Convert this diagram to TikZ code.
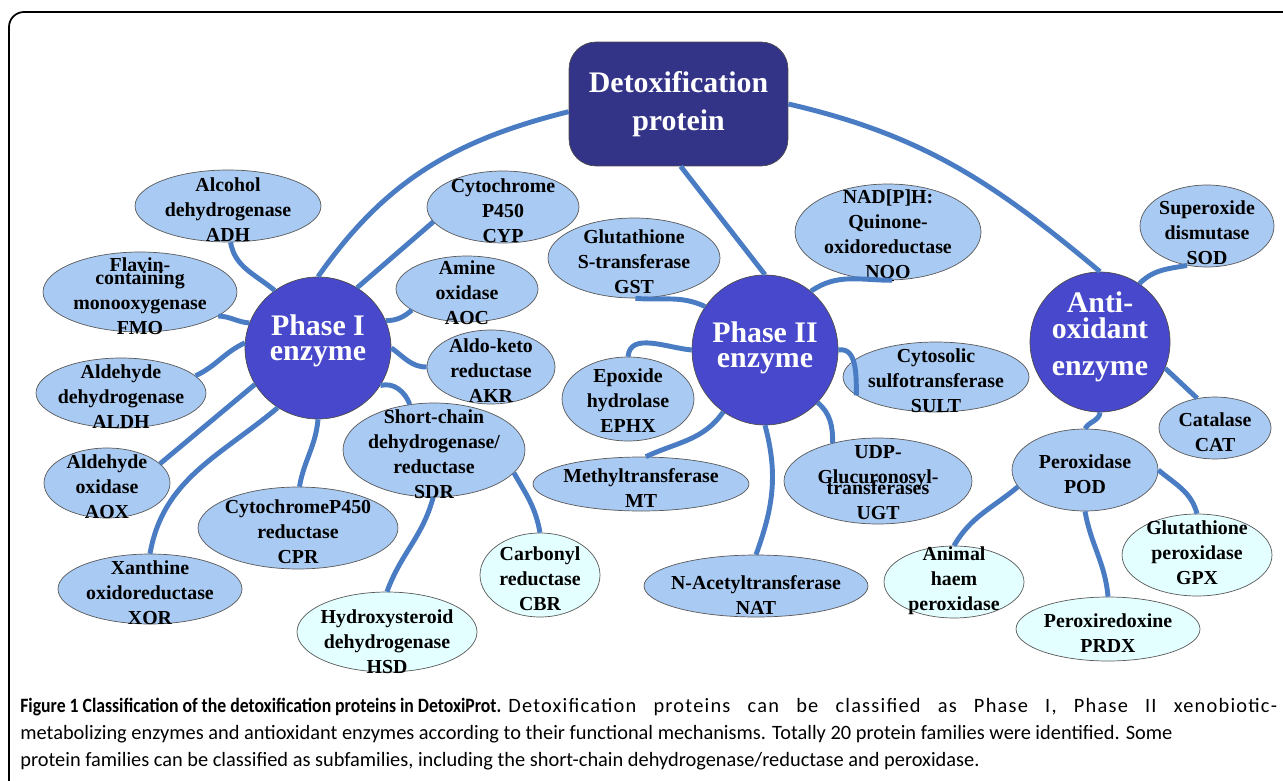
\documentclass[tikz,border=0pt]{standalone}
\usepackage{graphicx}
\usepackage{fontspec}
\setmainfont{Liberation Serif}
\newfontfamily\capfont{Carlito}
\usetikzlibrary{shapes.geometric}
\definecolor{boxnavy}{RGB}{51,51,136}
\definecolor{hubblue}{RGB}{72,72,204}
\definecolor{leafblue}{RGB}{169,202,242}
\definecolor{leafcyan}{RGB}{227,255,255}
\definecolor{linkblue}{RGB}{74,124,196}

\begin{document}
\begin{tikzpicture}[x=0.02cm,y=-0.02cm,
	hub/.style={ellipse,draw=black!70,line width=0.4pt,fill=hubblue,inner sep=0pt},
	hubtext/.style={text=white,font=\bfseries\fontsize{17}{14.5}\selectfont,align=center,inner sep=0pt},
	leaf/.style={ellipse,draw=black!65,line width=0.4pt,fill=leafblue,inner sep=0pt},
	subleaf/.style={leaf,fill=leafcyan},
	leaftext/.style={font=\bfseries\fontsize{11.3}{14.2}\selectfont,align=center,inner sep=0pt,yshift=-0.08cm},
	link/.style={draw=linkblue,line width=2.8pt}]
		\useasboundingbox (0,0) rectangle (1283,780);
		\draw[line width=1pt,rounded corners=0.3cm] (9,800) -- (9,12) -- (1300,12);

		% root and the three groups
		\node[draw=black!70,line width=0.4pt,fill=boxnavy,rounded corners=0.54cm,minimum width=4.38cm,minimum height=2.48cm,text=white,align=center,font=\bfseries\fontsize{17}{22}\selectfont] (detox) at (678.5,104) {Detoxification\\protein};
		\node[hub,minimum width=2.92cm,minimum height=2.84cm,label={[hubtext,yshift=0.14cm]center:Phase I\\enzyme}] (phaseI) at (318,348) {};
		\node[hub,minimum width=2.92cm,minimum height=3cm,label={[hubtext,yshift=0.04cm]center:Phase II\\enzyme}] (phaseII) at (765,350) {};
		\node[hub,minimum width=2.8cm,minimum height=2.8cm,label={[hubtext,yshift=0.1cm]center:Anti-\\oxidant\\[6.5pt]enzyme}] (anti) at (1100,342) {};

		% phase I families
		\node[leaf,minimum width=3.72cm,minimum height=1.44cm,label={[leaftext]center:Alcohol\\dehydrogenase\\ADH}] (adh) at (228,206) {};
		\node[leaf,minimum width=3.88cm,minimum height=1.6cm,label={[leaftext,yshift=0cm]center:Flavin-\\[-7pt]containing\\monooxygenase\\FMO}] (fmo) at (140,292) {};
		\node[leaf,minimum width=3.4cm,minimum height=1.4cm,label={[leaftext]center:Aldehyde\\dehydrogenase\\ALDH}] (aldh) at (121,393) {};
		\node[leaf,minimum width=2.52cm,minimum height=1.4cm,label={[leaftext]center:Aldehyde\\oxidase\\AOX}] (aox) at (107,483) {};
		\node[leaf,minimum width=3.68cm,minimum height=1.4cm,label={[leaftext]center:Xanthine\\oxidoreductase\\XOR}] (xor) at (150,589) {};
		\node[leaf,minimum width=4cm,minimum height=1.64cm,label={[leaftext]center:CytochromeP450\\reductase\\CPR}] (cpr) at (298,528) {};
		\node[leaf,minimum width=3.64cm,minimum height=1.88cm,label={[leaftext]center:Short-chain\\dehydrogenase/\\reductase\\SDR}] (sdr) at (434,450) {};
		\node[subleaf,minimum width=3.6cm,minimum height=1.6cm,label={[leaftext,yshift=-0.12cm]center:Hydroxysteroid\\dehydrogenase\\HSD}] (hsd) at (387,632) {};
		\node[subleaf,minimum width=2.4cm,minimum height=1.68cm,label={[leaftext]center:Carbonyl\\reductase\\CBR}] (cbr) at (540,575) {};
		\node[leaf,minimum width=3.04cm,minimum height=1.44cm,label={[leaftext]center:Cytochrome\\P450\\CYP}] (cyp) at (503,207) {};
		\node[leaf,minimum width=2.84cm,minimum height=1.32cm,label={[leaftext,yshift=0cm]center:Amine\\oxidase\\AOC}] (aoc) at (467,289) {};
		\node[leaf,minimum width=2.56cm,minimum height=1.48cm,label={[leaftext,yshift=0cm]center:Aldo-keto\\reductase\\AKR}] (akr) at (491,367) {};

		% phase II families
		\node[leaf,minimum width=3.44cm,minimum height=1.6cm,label={[leaftext,yshift=0cm]center:Glutathione\\S-transferase\\GST}] (gst) at (634,258) {};
		\node[leaf,minimum width=3.72cm,minimum height=1.92cm,label={[leaftext,yshift=0cm]center:NAD[P]H:\\Quinone-\\oxidoreductase\\NQO}] (nqo) at (888,232) {};
		\node[leaf,minimum width=2.64cm,minimum height=1.68cm,label={[leaftext,yshift=0.04cm]center:Epoxide\\hydrolase\\EPHX}] (ephx) at (628,399) {};
		\node[leaf,minimum width=3.72cm,minimum height=1.4cm,label={[leaftext]center:Cytosolic\\sulfotransferase\\SULT}] (sult) at (936,377) {};
		\node[leaf,minimum width=4.32cm,minimum height=1.08cm,label={[leaftext]center:Methyltransferase\\MT}] (mt) at (641,484) {};
		\node[leaf,minimum width=3.76cm,minimum height=1.72cm,label={[leaftext,yshift=0.05cm]center:UDP-\\Glucuronosyl-\\[-8pt]transferases\\UGT}] (ugt) at (878,481) {};
		\node[leaf,minimum width=4.48cm,minimum height=1.24cm,label={[leaftext,yshift=-0.1cm]center:N-Acetyltransferase\\NAT}] (nat) at (756,586) {};

		% antioxidant families
		\node[leaf,minimum width=2.68cm,minimum height=1.64cm,label={[leaftext,yshift=-0.06cm]center:Superoxide\\dismutase\\SOD}] (sod) at (1207,226) {};
		\node[leaf,minimum width=2.24cm,minimum height=1.24cm,label={[leaftext,yshift=0cm]center:Catalase\\CAT}] (cat) at (1215,428) {};
		\node[leaf,minimum width=2.92cm,minimum height=1.64cm,label={[leaftext,yshift=0cm]center:Peroxidase\\POD}] (pod) at (1085,470) {};
		\node[subleaf,minimum width=2.8cm,minimum height=1.44cm,label={[leaftext,yshift=0.1cm]center:Animal\\haem\\peroxidase}] (haem) at (954,582) {};
		\node[subleaf,minimum width=3cm,minimum height=1.64cm,label={[leaftext,yshift=0.12cm]center:Glutathione\\peroxidase\\GPX}] (gpx) at (1197,555) {};
		\node[subleaf,minimum width=3.68cm,minimum height=1.28cm,label={[leaftext,yshift=0cm]center:Peroxiredoxine\\PRDX}] (prdx) at (1108,629) {};

		% connectors
		\draw[link] (detox.184) to[out=194,in=55] (phaseI.90);
		\draw[link] (detox.-88) -- (phaseII.90);
		\draw[link] (detox.east) to[out=-13,in=140] (anti.90);

		\draw[link] (adh.-86) to[out=-80,in=140] (phaseI.127);
		\draw[link] (fmo.-17) to[out=-3,in=175] (phaseI.160);
		\draw[link] (aldh.13) to[out=25,in=205] (phaseI.176);
		\draw[link] (aox.20) -- (phaseI.210);
		\draw[link] (xor.90) to[out=80,in=220] (phaseI.236);
		\draw[link] (cpr.88) to[out=80,in=-95] (phaseI.270);
		\draw[link] (phaseI.-31) to[out=15,in=110] (sdr.118);
		\draw[link] (phaseI.0) to[out=-35,in=180] (akr.180);
		\draw[link] (phaseI.22) to[out=0,in=220] (aoc.201);
		\draw[link] (phaseI.57) -- (cyp.192);
		\draw[link] (sdr.-91) to[out=-105,in=70] (hsd.90);
		\draw[link] (sdr.-16) to[out=-60,in=100] (cbr.90);

		\draw[link] (gst.-88) to[out=-5,in=155] (phaseII.144);
		\draw[link] (phaseII.52) to[out=35,in=180] (nqo.-85);
		\draw[link] (phaseII.180) to[out=175,in=85] (ephx.90);
		\draw[link] (phaseII.0) to[out=10,in=90] (sult.193);
		\draw[link] (phaseII.236) to[out=235,in=25] (mt.80);
		\draw[link] (phaseII.-45) to[out=-40,in=90] (ugt.140);
		\draw[link] (phaseII.270) to[out=-75,in=70] (nat.90);

		\draw[link] (anti.56) to[out=45,in=190] (sod.243);
		\draw[link] (anti.-22) -- (cat.121);
		\draw[link] (anti.270) to[out=-95,in=60] (pod.90);
		\draw[link] (pod.194) to[out=220,in=60] (haem.90);
		\draw[link] (pod.270) to[out=-80,in=95] (prdx.90);
		\draw[link] (pod.0) to[out=-40,in=105] (gpx.90);

		% caption
		\node[anchor=north west,align=left,inner sep=0pt,font=\capfont\fontsize{11.6}{15.4}\selectfont] (caption) at (20,698) {\resizebox{9.62cm}{\height}{\textbf{Figure 1 Classification of the detoxification proteins in DetoxiProt.}}\hspace{0.14cm}\makebox[15.38cm][s]{\addfontfeatures{LetterSpace=6}Detoxification proteins can be classified as Phase I, Phase II xenobiotic-}\\metabolizing enzymes and antioxidant enzymes according to their functional mechanisms. Totally 20 protein families were identified. Some\\protein families can be classified as subfamilies, including the short-chain dehydrogenase/reductase and peroxidase.};
	\end{tikzpicture}
\end{document}
